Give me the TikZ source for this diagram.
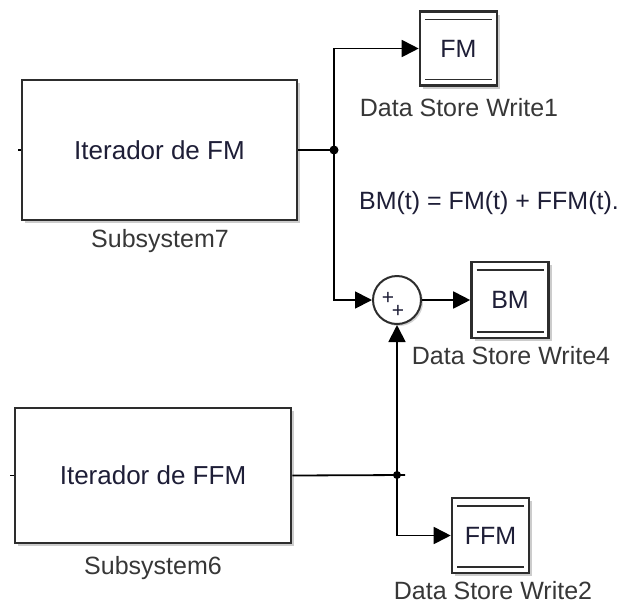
\documentclass[tikz,border=0pt]{standalone}
\usepackage{fontspec}
\setmainfont{Liberation Sans}
\usepackage{xcolor}
\usetikzlibrary{shadows, arrows.meta}
\definecolor{blktext}{RGB}{30,30,55}
\definecolor{lbltext}{RGB}{55,55,55}
\definecolor{blkedge}{RGB}{45,45,45}

\begin{document}
\begin{tikzpicture}[
        x=1pt, y=-1pt,
        subsys/.style={rectangle, draw=blkedge, line width=2.6pt, fill=white, minimum width=275pt, minimum height=140pt, align=center, text=blktext, font=\fontsize{26}{30}\selectfont, drop shadow={shadow xshift=3pt, shadow yshift=-3pt, opacity=.4, fill=gray}},
        dsw/.style={rectangle, draw=blkedge, line width=2.6pt, fill=white, minimum width=77pt, minimum height=74pt, inner sep=0pt, text=blktext, font=\fontsize{25}{30}\selectfont, drop shadow={shadow xshift=3pt, shadow yshift=-3pt, opacity=.4, fill=gray},
            path picture={
                \draw[line width=1.6pt, blkedge] ([xshift=5pt, yshift=-8pt]path picture bounding box.north west) -- ([xshift=-5pt, yshift=-8pt]path picture bounding box.north east);
                \draw[line width=1.6pt, blkedge] ([xshift=5pt, yshift=6pt]path picture bounding box.south west) -- ([xshift=-5pt, yshift=6pt]path picture bounding box.south east);
            }},
        sumblk/.style={circle, draw=blkedge, line width=2pt, fill=white, minimum size=48pt, inner sep=0pt, drop shadow={shadow xshift=2pt, shadow yshift=-2pt, opacity=.35, fill=gray}},
        lbl/.style={text=lbltext, font=\fontsize{25}{30}\selectfont, inner sep=0pt},
        sgn/.style={text=blktext, font=\fontsize{21}{22}\selectfont, inner sep=0pt},
        arrow/.style={-{Triangle[length=17pt, width=17pt]}, line width=1.8pt},
        wire/.style={line width=1.8pt}
    ]
        \useasboundingbox (0,0) rectangle (624,606);

        % Subsystems
        \node[subsys] (sub7) at (159.5,150) {Iterador de FM};
        \node[lbl] (sub7lbl) at (160,241) {Subsystem7};
        \node[subsys, minimum width=276pt, minimum height=135pt] (sub6) at (153,475.5) {Iterador de FFM};
        \node[lbl] (sub6lbl) at (153,568) {Subsystem6};

        % Data store writes
        \node[dsw] (fm) at (458.5,48.5) {FM};
        \node[lbl] (fmlbl) at (459,108) {Data Store Write1};
        \node[dsw, minimum height=76pt] (bm) at (510,300) {BM};
        \node[lbl] (bmlbl) at (511,356) {Data Store Write4};
        \node[dsw, minimum height=75pt] (ffm) at (490.5,535.5) {FFM};
        \node[lbl] (ffmlbl) at (493,591) {Data Store Write2};

        % Sum block
        \node[sumblk] (sum) at (397,300) {};
        \node[sgn] (plus1) at (388,298) {+};
        \node[sgn] (plus2) at (398,311) {+};

        % Equation
        \node[lbl, text=blktext] (eq) at (489,203) {BM(t) = FM(t) + FFM(t).};

        % Branch points
        \coordinate (j1) at (334,150);
        \coordinate (j2) at (397,475);
        \coordinate (stub) at (405,475);
        \fill (j1) circle (4.5pt);
        \fill (j2) circle (4pt);

        % Connections
        \draw[wire] (sub7.west) -- ++(-3,0);
        \draw[wire] (sub6.west) -- ++(-4,0);
        \draw[wire] (sub7.east) -- (j1);
        \draw[arrow] (j1) |- (fm.west);
        \draw[arrow] (j1) |- (sum.west);
        \draw[arrow] (sum.east) -- (bm.west);
        \draw[wire] (sub6.east) -- (stub);
        \draw[arrow] (j2) -- (sum.south);
        \draw[arrow] (j2) |- (ffm.west);
    \end{tikzpicture}
\end{document}
